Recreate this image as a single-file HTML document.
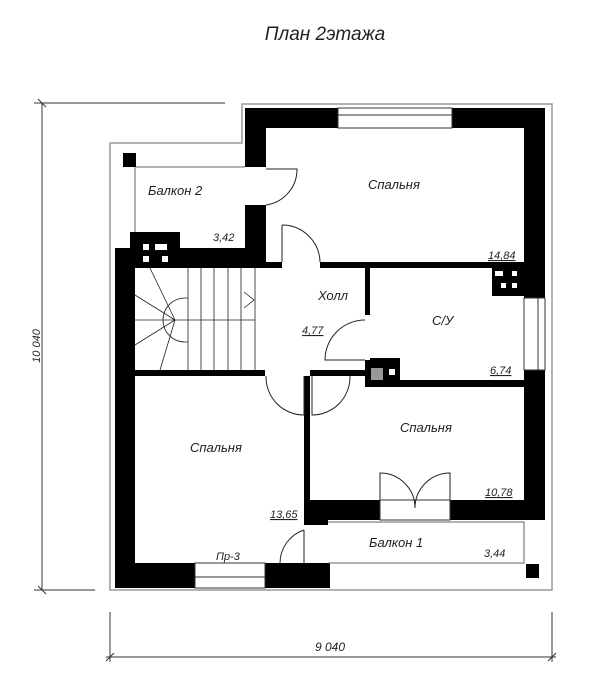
<!DOCTYPE html>
<html><head><meta charset="utf-8"><style>
html,body{margin:0;padding:0;background:#fff;}
svg{display:block}
text{font-family:"Liberation Sans","DejaVu Sans",sans-serif;font-style:italic;fill:#222;}
</style></head><body>
<svg width="600" height="697" viewBox="0 0 600 697" xmlns="http://www.w3.org/2000/svg">
<text x="325" y="40" font-size="19" text-anchor="middle">План 2этажа</text>
<g stroke="#333" stroke-width="1" fill="none">
<line x1="42" y1="103" x2="42" y2="590"/>
<line x1="34" y1="103" x2="225" y2="103"/>
<line x1="34" y1="590" x2="95" y2="590"/>
<line x1="38" y1="99" x2="46" y2="107"/>
<line x1="38" y1="586" x2="46" y2="594"/>
<line x1="110" y1="612" x2="110" y2="662"/>
<line x1="552" y1="612" x2="552" y2="662"/>
<line x1="106" y1="657" x2="556" y2="657"/>
<line x1="106" y1="661" x2="114" y2="653"/>
<line x1="548" y1="661" x2="556" y2="653"/>
</g>
<text x="40" y="346" font-size="11" transform="rotate(-90 40 346)" text-anchor="middle">10 040</text>
<text x="330" y="651" font-size="12" text-anchor="middle">9 040</text>
<path d="M110 143 H242 V104 H552 V590 H110 Z" fill="none" stroke="#999" stroke-width="1.5"/>
<g fill="#000">
<rect x="245" y="108" width="300" height="20"/>
<rect x="245" y="108" width="21" height="124"/>
<rect x="245" y="205" width="21" height="62"/>
<rect x="524" y="108" width="21" height="412"/>
<rect x="115" y="248" width="20" height="340"/>
<rect x="115" y="248" width="150" height="20"/>
<rect x="130" y="232" width="50" height="36"/>
<rect x="265" y="262" width="259" height="6"/>
<rect x="135" y="370" width="130" height="6"/>
<rect x="365" y="268" width="5" height="117"/>
<rect x="365" y="380" width="159" height="7"/>
<rect x="365" y="358" width="35" height="29"/>
<rect x="492" y="268" width="32" height="28"/>
<rect x="304" y="376" width="6" height="150"/>
<rect x="304" y="500" width="241" height="20"/>
<rect x="304" y="500" width="24" height="25"/>
<rect x="115" y="563" width="215" height="25"/>
<rect x="123" y="153" width="13" height="14"/>
<rect x="526" y="564" width="13" height="14"/>
</g>
<rect x="310" y="370" width="55" height="6" fill="#000"/>
<g fill="#fff" stroke="#333" stroke-width="1">
<rect x="338" y="108" width="114" height="20"/>
<line x1="338" y1="115" x2="452" y2="115"/>
<rect x="524" y="298" width="21" height="72"/>
<line x1="538" y1="298" x2="538" y2="370"/>
<rect x="195" y="563" width="70" height="25"/>
<line x1="195" y1="577" x2="265" y2="577"/>
<rect x="380" y="500" width="70" height="20"/>
<rect x="245" y="167" width="21" height="38" stroke="none"/>
<rect x="265" y="370" width="45" height="6" stroke="none"/>
<rect x="282" y="262" width="38" height="6" stroke="none"/>
<rect x="365" y="315" width="5" height="45" stroke="none"/>
<rect x="304" y="525" width="24" height="38" stroke="none"/>
</g>
<g fill="#fff">
<rect x="143" y="244" width="6" height="6"/><rect x="155" y="244" width="12" height="6"/>
<rect x="143" y="256" width="6" height="6"/><rect x="162" y="256" width="6" height="6"/>
<rect x="495" y="271" width="8" height="5"/><rect x="512" y="271" width="5" height="5"/>
<rect x="501" y="283" width="5" height="5"/><rect x="512" y="283" width="5" height="5"/>
<rect x="371" y="368" width="12" height="12" fill="#999"/><rect x="389" y="369" width="6" height="6"/>
</g>
<g stroke="#666" stroke-width="1" fill="none">
<path d="M136 167 H245 M135 167 V232"/>
<path d="M328 522 H524 V563 H328"/>
</g>
<g stroke="#222" stroke-width="1" fill="none">
<path d="M266 169 H297 A36 36 0 0 1 266 205"/>
<path d="M282 225 V262 M282 225 A38 38 0 0 1 320 262"/>
<path d="M365 320 A40 40 0 0 0 325 360 H365"/>
<path d="M304 376 V415 A38 38 0 0 1 266 376"/>
<path d="M312 376 V415 A38 38 0 0 0 350 376"/>
<path d="M380 500 V473 A35 35 0 0 1 415 508 M450 500 V473 A35 35 0 0 0 415 508"/>
<path d="M304 530 A35 35 0 0 0 280 563 M304 530 V563"/>
</g>
<g stroke="#222" stroke-width="0.8" fill="none">
<path d="M188 268 V370 M201 268 V370 M214 268 V370 M228 268 V370 M241 268 V370 M255 268 V370"/>
<path d="M188 298 H185 A22 22 0 0 0 185 342 H188"/>
<line x1="175" y1="320" x2="255" y2="320"/>
<path d="M175 320 L135 295 M175 320 L150 268 M175 320 L135 345 M175 320 L160 370 M175 320 L135 320"/>
<path d="M244 292 L254 300 L244 308"/>
</g>
<g font-size="13">
<text x="148" y="195">Балкон 2</text>
<text x="368" y="189">Спальня</text>
<text x="318" y="300">Холл</text>
<text x="432" y="325">С/У</text>
<text x="400" y="432">Спальня</text>
<text x="190" y="452">Спальня</text>
<text x="369" y="547">Балкон 1</text>
</g>
<g font-size="11">
<text x="213" y="241">3,42</text>
<text x="488" y="259" text-decoration="underline">14,84</text>
<text x="302" y="334" text-decoration="underline">4,77</text>
<text x="490" y="374" text-decoration="underline">6,74</text>
<text x="485" y="496" text-decoration="underline">10,78</text>
<text x="270" y="518" text-decoration="underline">13,65</text>
<text x="216" y="560">Пр-3</text>
<text x="484" y="557">3,44</text>
</g>
</svg>
</body></html>
